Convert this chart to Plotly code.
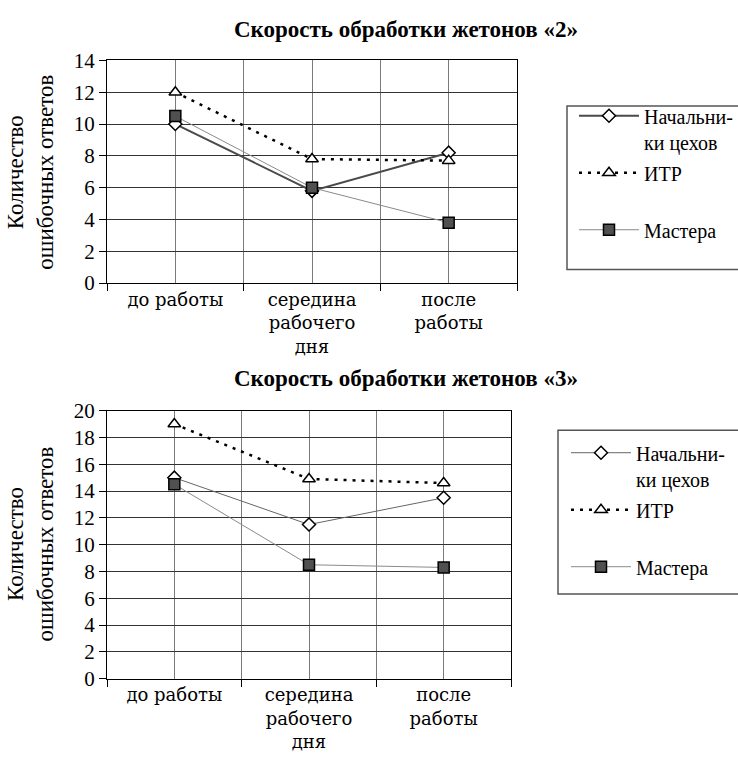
import plotly.graph_objects as go

W, H = 738, 757

categories = ["до работы", "середина<br>рабочего<br>дня", "после<br>работы"]
series_names = ["Начальни-<br>ки цехов", "ИТР<br> ", "Мастера"]

# Chart 1: «2»
nach2 = [10, 5.8, 8.2]
itr2 = [12, 7.8, 7.7]
master2 = [10.5, 6, 3.8]

# Chart 2: «3»
nach3 = [15, 11.5, 13.5]
itr3 = [19, 14.9, 14.6]
master3 = [14.5, 8.5, 8.3]

titles = ["Скорость обработки жетонов «2»", "Скорость обработки жетонов «3»"]
ytitle = "Количество<br>ошибочных ответов"

FONT = "Liberation Serif, Times New Roman, serif"
F_XT = "DejaVu Serif, serif"
xpos = list(range(len(categories)))


def px_x(p):
    return p / W


def px_y(p):
    return 1 - p / H


fig = go.Figure()

styles = [
    dict(line=dict(color="#4a4a4a", width=2),
         marker=dict(symbol="diamond", size=10, color="white", line=dict(color="black", width=1.5))),
    dict(line=dict(color="black", width=2.5, dash="3px,6px"),
         marker=dict(symbol="triangle-up", size=11, color="white", line=dict(color="black", width=1.5))),
    dict(line=dict(color="#8a8a8a", width=1),
         marker=dict(symbol="square", size=11, color="#505050", line=dict(color="black", width=1.5))),
]

sets = [
    ("x", "y", "legend", [nach2, itr2, master2], "g1"),
    ("x2", "y2", "legend2", [nach3, itr3, master3], "g2"),
]

for xa, ya, leg, data, gp in sets:
    for i, (name, vals) in enumerate(zip(series_names, data)):
        st = dict(styles[i])
        if gp == "g2" and i == 0:
            st = dict(line=dict(color="#666666", width=1), marker=styles[0]["marker"])
        fig.add_trace(go.Scatter(
            x=xpos, y=vals, name=name, mode="lines+markers",
            xaxis=xa, yaxis=ya, legend=leg, legendgroup=gp + str(i),
            line=st["line"], marker=st["marker"], showlegend=True,
        ))

axis_common_x = dict(
    range=[-0.5, 2.5], tickmode="array", tickvals=xpos, ticktext=categories,
    showgrid=True, gridcolor="#7a7a7a", gridwidth=1,
    showline=True, linecolor="black", linewidth=1, mirror=True,
    ticks="", tickfont=dict(family=F_XT, size=18, color="black"),
    minor=dict(tickmode="array", tickvals=[-0.5, 0.5, 1.5, 2.5], ticks="outside",
               ticklen=7, tickcolor="black", showgrid=True, gridcolor="#7a7a7a"),
    zeroline=False, fixedrange=True,
)
axis_common_y = dict(
    dtick=2, showgrid=True, gridcolor="#333333", gridwidth=1,
    showline=True, linecolor="black", linewidth=1, mirror=True,
    ticks="outside", ticklen=7, tickcolor="black",
    tickfont=dict(family=FONT, size=21, color="black"),
    zeroline=False, fixedrange=True,
)

fig.update_layout(
    width=W, height=H,
    margin=dict(l=0, r=0, t=0, b=0),
    paper_bgcolor="white", plot_bgcolor="white",
    font=dict(family=FONT, color="black"),
    xaxis=dict(axis_common_x, domain=[px_x(107), px_x(517)], anchor="y"),
    yaxis=dict(axis_common_y, range=[0, 14], domain=[px_y(280), px_y(50)], anchor="x"),
    xaxis2=dict(axis_common_x, domain=[px_x(107), px_x(511)], anchor="y2"),
    yaxis2=dict(axis_common_y, range=[0, 20], domain=[px_y(688.5), px_y(411.7)], anchor="x2"),
    legend=dict(x=px_x(574), y=px_y(87), xanchor="left", yanchor="top",
                bgcolor="rgba(0,0,0,0)", borderwidth=0, itemwidth=60,
                tracegroupgap=2, valign="top",
                font=dict(family=FONT, size=20, color="black")),
    legend2=dict(x=px_x(566), y=px_y(435), xanchor="left", yanchor="top",
                 bgcolor="rgba(0,0,0,0)", borderwidth=0, itemwidth=60,
                 tracegroupgap=2, valign="top",
                 font=dict(family=FONT, size=20, color="black")),
    showlegend=True,
)

# legend frames
fig.add_shape(type="rect", xref="paper", yref="paper",
              x0=px_x(567), x1=px_x(745), y0=px_y(266), y1=px_y(97),
              line=dict(color="#555555", width=1.5), fillcolor="rgba(0,0,0,0)")
fig.add_shape(type="rect", xref="paper", yref="paper",
              x0=px_x(558), x1=px_x(745), y0=px_y(601), y1=px_y(432),
              line=dict(color="#555555", width=1.5), fillcolor="rgba(0,0,0,0)")

# titles
for t, yy in zip(titles, [18, 379]):
    fig.add_annotation(text="<b>" + t + "</b>", xref="paper", yref="paper",
                       x=px_x(406), y=px_y(yy), showarrow=False,
                       xanchor="center", yanchor="middle",
                       font=dict(family=FONT, size=23, color="black"))

# y axis titles
for yy in [166, 550]:
    fig.add_annotation(text=ytitle, xref="paper", yref="paper",
                       x=px_x(31), y=px_y(yy), showarrow=False, textangle=-90,
                       xanchor="center", yanchor="middle",
                       font=dict(family=FONT, size=23, color="black"))

fig.write_html("out.html")
